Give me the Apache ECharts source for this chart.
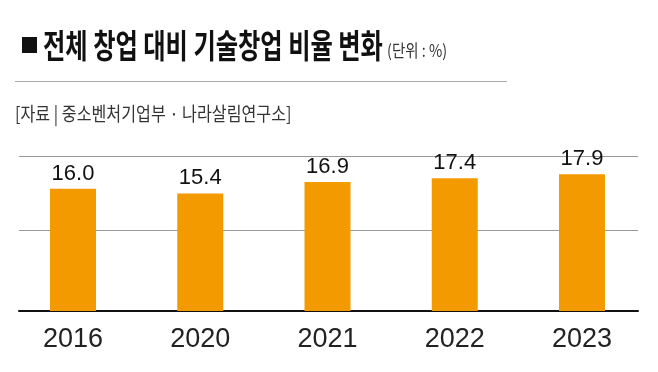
<!DOCTYPE html>
<html>
<head>
<meta charset="utf-8">
<script src="https://cdn.jsdelivr.net/npm/echarts@6/dist/echarts.min.js"></script>
<style>
html,body{margin:0;padding:0;background:#fff;}
#chart{width:658px;height:372px;}
</style>
</head>
<body>
<div id="chart"></div>
<script>
const titleText = '전체 창업 대비 기술창업 비율 변화';
const unitText = '(단위 : %)';
const sourceText = '[자료 | 중소벤처기업부 · 나라살림연구소]';
const categories = ['2016', '2020', '2021', '2022', '2023'];
const values = [16.0, 15.4, 16.9, 17.4, 17.9];
const yMin = 0;
const yMax = 20.3;
const yInterval = 10.6;

const chart = echarts.init(document.getElementById('chart'), null, {renderer: 'canvas'});
const gridTop = 156, gridBottom = 61;
chart.setOption({
  backgroundColor: '#fff',
  animation: false,
  grid: [
    {left: 19, right: 20, top: gridTop, bottom: gridBottom},
    {left: 9.4, right: 12.4, top: gridTop, bottom: gridBottom}
  ],
  xAxis: [
    {
      gridIndex: 0, type: 'category', data: categories,
      axisLine: {show: true, lineStyle: {color: '#111', width: 2}},
      axisTick: {show: false}, axisLabel: {show: false}, splitLine: {show: false}
    },
    {
      gridIndex: 1, type: 'category', data: categories,
      axisLine: {show: false}, axisTick: {show: false},
      axisLabel: {show: true, color: '#222', fontSize: 27, fontFamily: 'Liberation Sans, Arial, sans-serif', margin: 15},
      splitLine: {show: false}
    }
  ],
  yAxis: [
    {
      gridIndex: 0, type: 'value', min: yMin, max: yMax, interval: yInterval,
      axisLine: {show: false}, axisTick: {show: false}, axisLabel: {show: false},
      splitLine: {show: true, lineStyle: {color: '#9a9a9a', width: 1}}
    },
    {
      gridIndex: 1, type: 'value', min: yMin, max: yMax, interval: yInterval,
      axisLine: {show: false}, axisTick: {show: false}, axisLabel: {show: false},
      splitLine: {show: false}
    }
  ],
  series: [{
    type: 'bar',
    xAxisIndex: 1, yAxisIndex: 1,
    data: values,
    barWidth: 46,
    itemStyle: {color: '#f39a00'},
    label: {
      show: true, position: 'top', distance: 4,
      color: '#111', fontSize: 22, fontFamily: 'Liberation Sans, Arial, sans-serif',
      formatter: p => p.value.toFixed(1)
    },
    z: 3
  }],
  graphic: [
    {type: 'rect', shape: {x: 22, y: 37, width: 15, height: 16}, style: {fill: '#111'}},
    {type: 'text', x: 43, y: 45, scaleX: 0.735,
      style: {text: titleText, x: 0, y: 0, align: 'left', verticalAlign: 'middle',
        font: 'bold 33px "Noto Sans CJK KR", sans-serif', fill: '#111'}},
    {type: 'text', x: 387, y: 51, scaleX: 0.85,
      style: {text: unitText, x: 0, y: 0, align: 'left', verticalAlign: 'middle',
        font: '17px "Noto Sans CJK KR", sans-serif', fill: '#333'}},
    {type: 'line', shape: {x1: 15, y1: 81.5, x2: 507, y2: 81.5}, style: {stroke: '#aaa', lineWidth: 1}},
    {type: 'text', x: 15, y: 114, scaleX: 0.85,
      style: {text: sourceText, x: 0, y: 0, align: 'left', verticalAlign: 'middle',
        font: '19px "Noto Sans CJK KR", sans-serif', fill: '#333'}}
  ]
});
</script>
</body>
</html>
